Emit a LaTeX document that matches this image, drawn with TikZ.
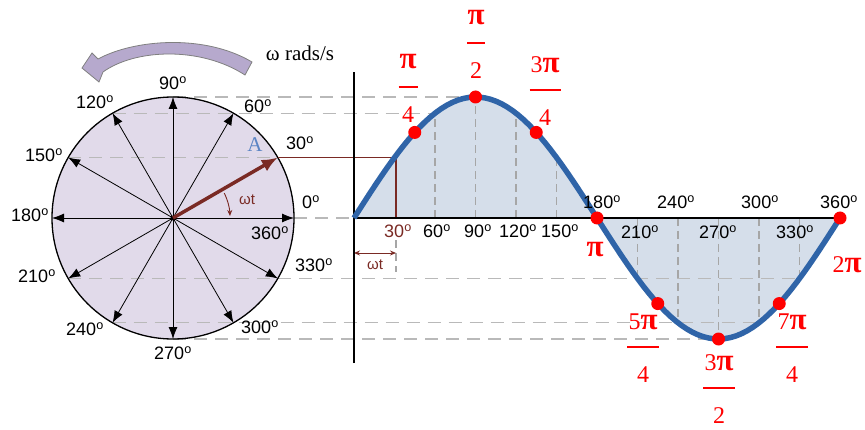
\documentclass[tikz,border=0pt]{standalone}
\usepackage{fontspec}
\setmainfont{Liberation Sans}
\newfontfamily\serifrm{Liberation Serif}
\usetikzlibrary{arrows.meta}
\definecolor{discfill}{HTML}{E1DAEA}
\definecolor{wavefill}{HTML}{D5DEEA}
\definecolor{wave}{HTML}{2F64A8}
\definecolor{phasor}{HTML}{7A2A24}
\definecolor{spin}{HTML}{B6A9CD}
\definecolor{alabel}{HTML}{5B84C4}
\newcommand{\pisym}{{\fontsize{31}{31}\selectfont\bfseries π}}
\newcommand{\dg}[1]{#1\textsuperscript{o}}
\newcommand{\radmark}[6]{%
  \node[radlabel] (#1n) at (#2,#3+25) {#4};
  \draw[red,line width=2.5pt] (#2-#6,#3) -- (#2+#6,#3);
  \node[radlabel] (#1d) at (#2,#3-28) {#5};}
\tikzset{
  guideline/.style={gray!55,line width=1.3pt,dash pattern=on 13pt off 8pt},
  vguide/.style={gray!70,line width=1.1pt,dash pattern=on 8pt off 5pt},
  spoke/.style={-{Latex[length=12pt,width=9pt]},line width=0.8pt},
  deg/.style={font=\fontsize{18}{18}\selectfont,inner sep=0pt},
  radlabel/.style={red,font=\serifrm\fontsize{24}{24}\selectfont,inner sep=0pt},
  small label/.style={phasor,font=\fontsize{15}{15}\selectfont,inner sep=0pt}
}
\begin{document}
\begin{tikzpicture}[x=1pt,y=1pt]
  \useasboundingbox (0,0) rectangle (865,429);
  \coordinate (hub) at (173,211);
  \coordinate (org) at (354,211);
  \coordinate (tipA) at ([shift={(30:121)}]hub);
  \coordinate (footA) at (396,211);
  % rotation arrow
  \filldraw[fill=spin,draw=gray,line width=0.8pt] (252,367) .. controls (205,395) and (135,390) .. (98,370)
    -- (92,376) -- (82,361) -- (99,347) -- (103,357) .. controls (135,380) and (200,383) .. (245,354) -- cycle;
  \node[font=\serifrm\fontsize{21}{21}\selectfont] (rate) at (300,376) {ω rads/s};
  % fills
  \fill[discfill] (hub) circle (121);
  \fill[wavefill] (org) -- plot[domain=0:360,samples=90] ({354+1.35*\x},{211+121*sin(\x)}) -- cycle;
  % guides
  \foreach \a/\b in {90/90,120/60,150/30,210/330,240/300,270/270}
    \draw[guideline] ({173+121*cos(\a)},{211+121*sin(\a)}) -- ({354+1.35*\b},{211+121*sin(\b)});
  \draw[guideline] (294,211) -- (org);
  \foreach \t in {60,90,120,150,210,240,270,300,330}
    \draw[vguide] ({354+1.35*\t},211) -- ({354+1.35*\t},{211+121*sin(\t)});
  \draw[vguide] (396,189) -- (396,157);
  % phasor circle
  \foreach \a in {0,60,90,120,150,180,210,240,270,300,330}
    \draw[spoke] (hub) -- ++(\a:121);
  \draw[line width=1.3pt] (hub) circle (121);
  \fill (hub) circle (2.5);
  \draw[phasor,line width=1.3pt] (tipA) -| (footA);
  \draw[phasor,line width=3.5pt,-{Latex[length=16pt,width=13pt]}] (hub) -- (tipA);
  \draw[phasor,line width=0.9pt,-{Stealth[length=6pt,width=5pt]}] ([shift={(26:57)}]hub) arc[start angle=26,end angle=2,radius=57];
  \draw[phasor,line width=0.9pt,{Stealth[length=6pt,width=5pt]}-{Stealth[length=6pt,width=5pt]}] (354,176) -- (396,176);
  % axes and wave
  \draw[line width=1.4pt] (org) -- (840,211);
  \draw[line width=1.6pt] (354,66) -- (354,357);
  \draw[wave,line width=5.5pt] plot[domain=0:360,samples=90] ({354+1.35*\x},{211+121*sin(\x)});
  \foreach \t in {45,90,...,360}
    \fill[red] ({354+1.35*\t},{211+121*sin(\t)}) circle (6.5);
  % labels
  \node[font=\serifrm\fontsize{21}{21}\selectfont,text=alabel] (nameA) at (255,284) {A};
  \node[small label] (wt1) at (247,229) {ωt};
  \node[small label] (wt2) at (375,164) {ωt};
  \foreach \n/\x/\y in {90/173/346,120/95/327,60/258/323,150/44/274,30/300/286,0/311/227,180/30/214,360/270/196,
      330/314/164,210/37/153,240/85/100,300/260/102,270/173/76}
    \node[deg] (c\n) at (\x,\y) {\dg{\n}};
  \node[deg,text=phasor] (w30) at (398,198) {\dg{30}};
  \foreach \n/\x/\y in {60/437/198,90/478/198,120/518/198,150/560/198,210/640/197,270/718/197,330/795/197,
      180/602/227,240/676/227,300/760/227,360/839/227}
    \node[deg] (w\n) at (\x,\y) {\dg{\n}};
  \radmark{qa}{408}{342}{\pisym}{4}{9.5}
  \radmark{qb}{476}{386}{\pisym}{2}{9}
  \radmark{qc}{545}{339}{3\pisym}{4}{15.5}
  \radmark{qe}{643}{82}{5\pisym}{4}{16}
  \radmark{qf}{719}{41}{3\pisym}{2}{16}
  \radmark{qg}{792}{82}{7\pisym}{4}{16}
  \node[radlabel] (pione) at (595,179) {\pisym};
  \node[radlabel] (pitwo) at (847,164) {2\pisym};
\end{tikzpicture}
\end{document}
